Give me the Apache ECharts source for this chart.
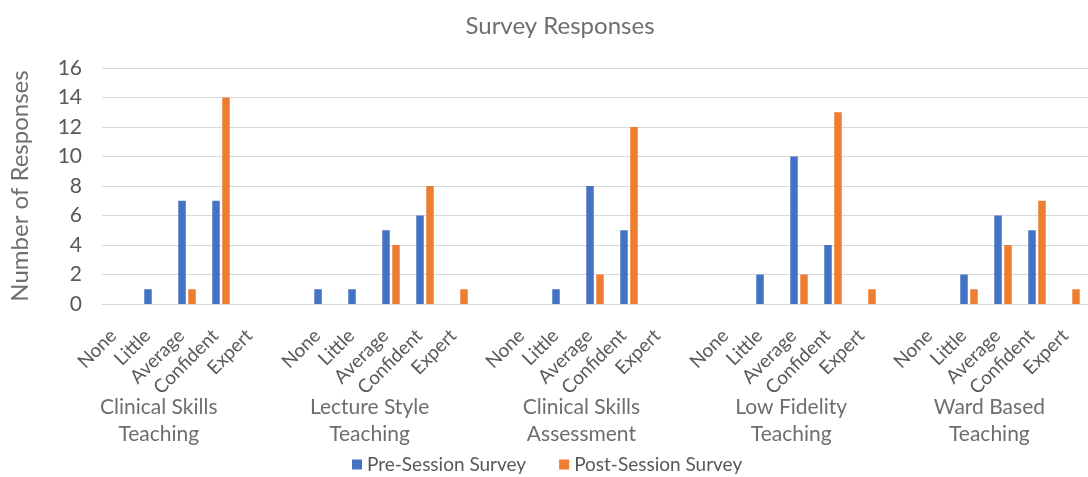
<!DOCTYPE html>
<html>
<head>
<meta charset="utf-8">
<script src="https://cdn.jsdelivr.net/npm/echarts@6/dist/echarts.min.js"></script>
<style>html,body{margin:0;padding:0;background:#fff}#c{width:1088px;height:477px}</style>
</head>
<body>
<div id="c"></div>
<script>
const title = 'Survey Responses';
const yAxisTitle = 'Number of Responses';
const groups = ['Clinical Skills\nTeaching', 'Lecture Style\nTeaching', 'Clinical Skills\nAssessment', 'Low Fidelity\nTeaching', 'Ward Based\nTeaching'];
const levels = ['None', 'Little', 'Average', 'Confident', 'Expert'];
const seriesNames = ['Pre-Session Survey', 'Post-Session Survey'];
// values per group, in the order of levels
const preSession = [
  [0, 1, 7, 7, 0],
  [1, 1, 5, 6, 0],
  [0, 1, 8, 5, 0],
  [0, 2, 10, 4, 0],
  [0, 2, 6, 5, 0]
];
const postSession = [
  [0, 0, 1, 14, 0],
  [0, 0, 4, 8, 1],
  [0, 0, 2, 12, 0],
  [0, 0, 2, 13, 1],
  [0, 1, 4, 7, 1]
];
const yTicks = [0, 2, 4, 6, 8, 10, 12, 14, 16];

// Build flat category list: each group followed by an empty spacer slot
const cats = [], preData = [], postData = [];
groups.forEach((g, gi) => {
  levels.forEach((lv, li) => {
    cats.push(gi + '|' + lv);
    preData.push(preSession[gi][li]);
    postData.push(postSession[gi][li]);
  });
  if (gi < groups.length - 1) {
    cats.push(gi + '|');
    preData.push(null);
    postData.push(null);
  }
});
// group label anchor positions (in slot units)
const groupLabelAt = [1.17, 7.37, 13.6, 19.77, 25.6];

const FONT = 'Lato';
const chart = echarts.init(document.getElementById('c'), null, {renderer: 'canvas'});
chart.setOption({
  animation: false,
  color: ['#4472C4', '#ED7D31'],
  textStyle: {fontFamily: FONT},
  title: {
    text: title, left: 555, top: 9, textAlign: 'center',
    textStyle: {fontFamily: FONT, fontSize: 24, fontWeight: 'normal', color: '#6e6e6e'}
  },
  legend: {
    data: seriesNames, top: 450, left: 347,
    icon: 'rect', itemWidth: 10, itemHeight: 10, itemGap: 33,
    textStyle: {fontFamily: FONT, fontSize: 19, color: '#595959'}
  },
  grid: {left: 102, top: 68, width: 995, height: 236, containLabel: false},
  xAxis: [{
    type: 'category', data: cats, position: 'bottom',
    axisLine: {show: true, lineStyle: {color: '#d9d9d9', width: 1}},
    axisTick: {show: false},
    axisLabel: {
      interval: 0, rotate: 45, margin: 23, fontFamily: FONT, fontSize: 19, color: '#595959',
      padding: [0, 8, 0, 0],
      formatter: v => v.split('|')[1]
    }
  }, {
    type: 'value', min: -0.5, max: 28.5, position: 'bottom', offset: 90,
    axisLine: {show: false}, axisTick: {show: false}, splitLine: {show: false},
    axisLabel: {
      customValues: groupLabelAt, margin: 0, fontFamily: FONT, fontSize: 21,
      lineHeight: 27, color: '#6e6e6e', verticalAlign: 'top',
      formatter: v => { const i = groupLabelAt.indexOf(v); return i >= 0 ? groups[i] : ''; }
    }
  }],
  yAxis: {
    type: 'value', min: 0, max: 16, interval: 2,
    name: yAxisTitle, nameLocation: 'middle', nameGap: 70, nameRotate: 90,
    nameTextStyle: {fontFamily: FONT, fontSize: 24, color: '#6e6e6e'},
    axisLine: {show: false}, axisTick: {show: false},
    axisLabel: {margin: 20, fontFamily: FONT, fontSize: 21, color: '#595959',
      formatter: v => yTicks.includes(v) ? String(v) : ''},
    splitLine: {lineStyle: {color: '#d9d9d9', width: 1}}
  },
  series: [
    {name: seriesNames[0], type: 'bar', data: preData, barWidth: 7.5, barGap: '33%', xAxisIndex: 0},
    {name: seriesNames[1], type: 'bar', data: postData, barWidth: 7.5, barGap: '33%', xAxisIndex: 0}
  ]
});
</script>
</body>
</html>
